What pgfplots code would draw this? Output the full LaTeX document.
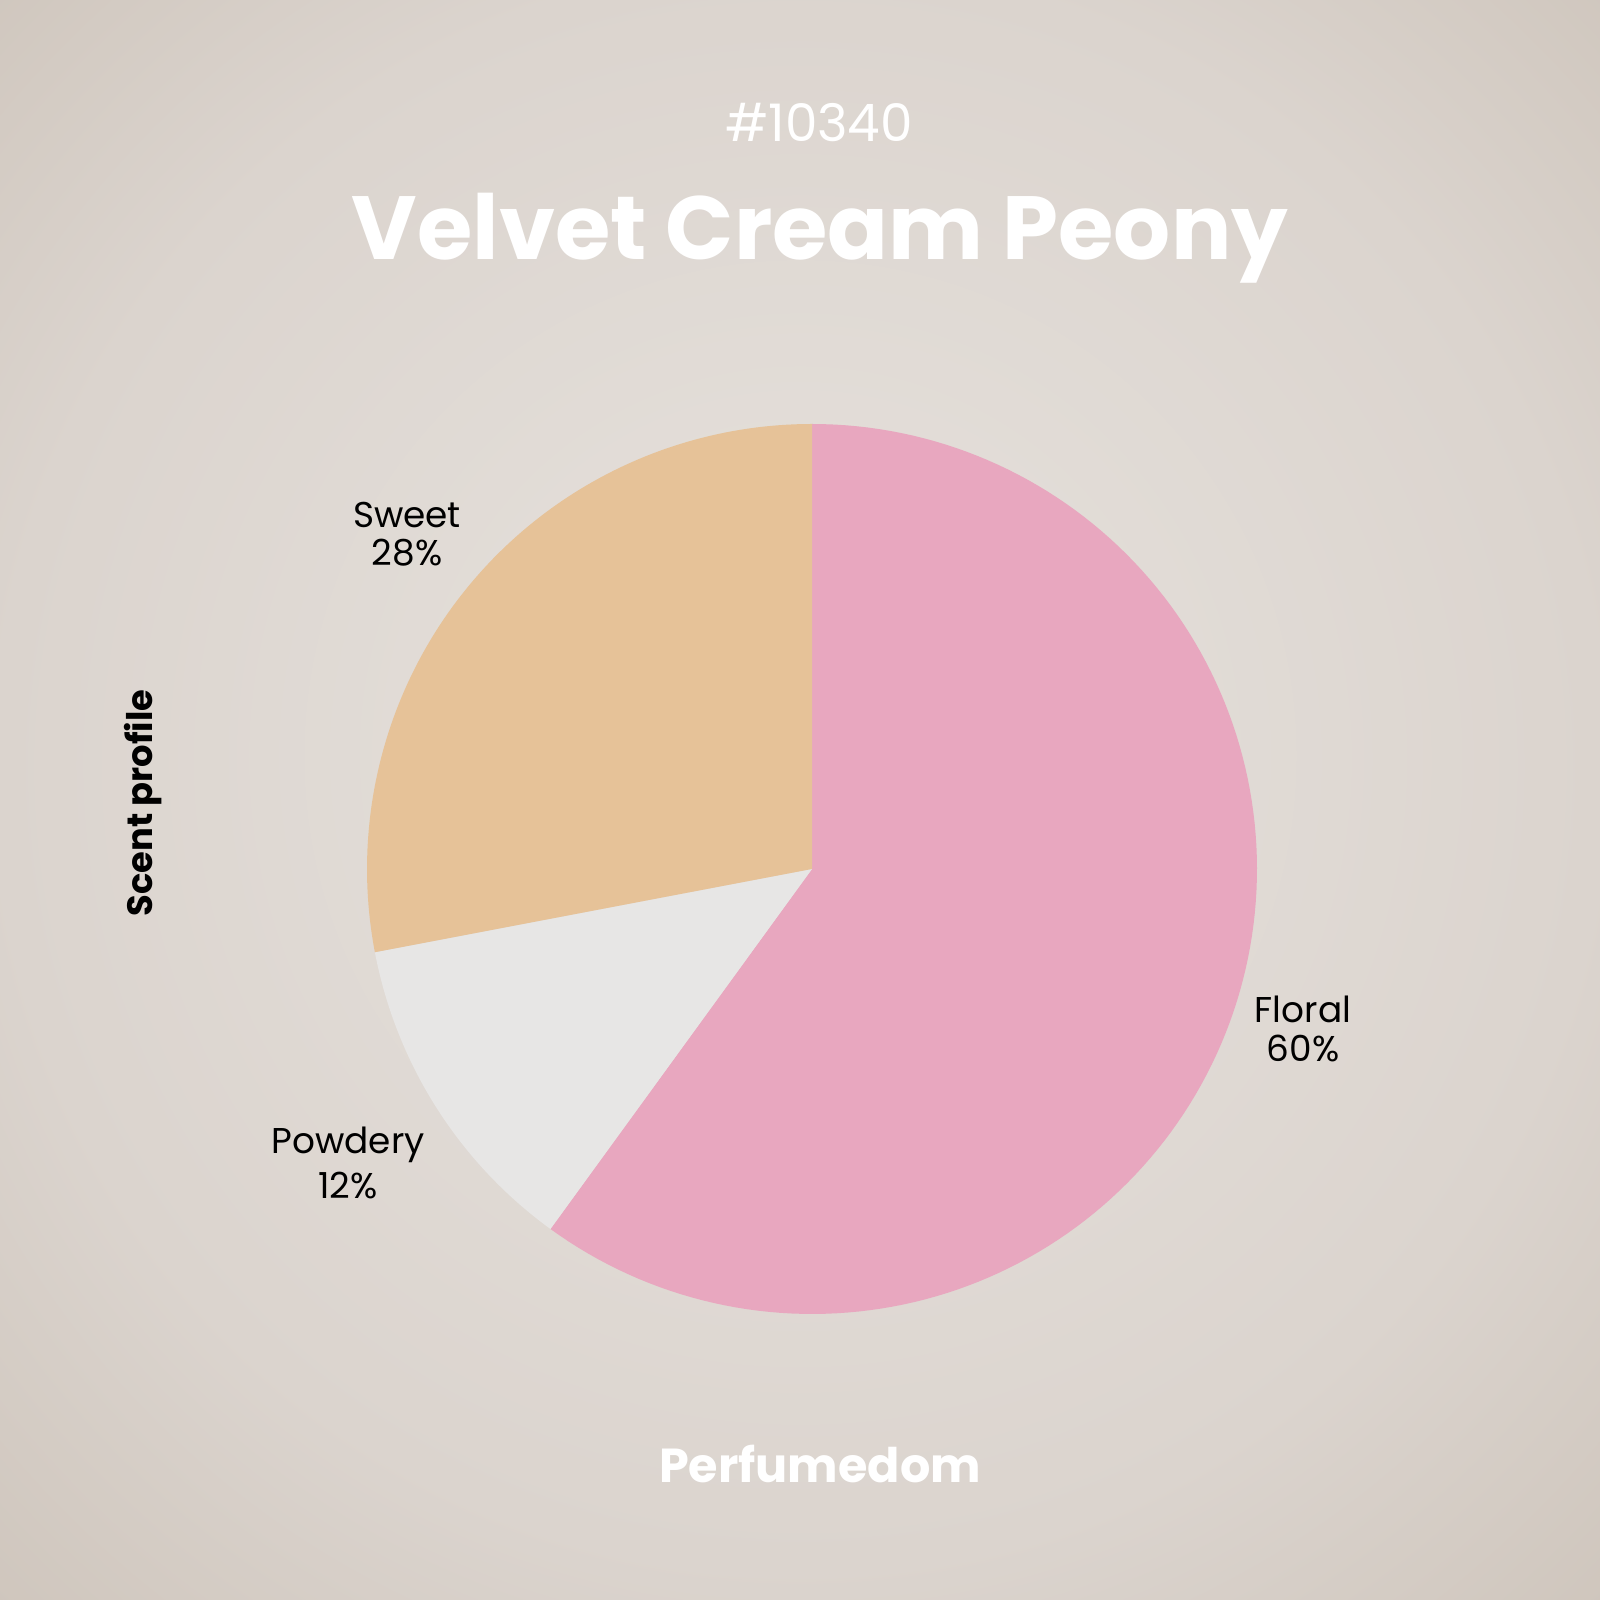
\documentclass[border=0pt]{standalone}
\usepackage{pgfplots}
\usepackage{pgfplotstable}
\pgfplotsset{compat=1.18}
\usepackage{fontspec}
\setmainfont{Poppins}
\definecolor{floral}{HTML}{E8A7BF}
\definecolor{powdery}{HTML}{E7E6E5}
\definecolor{sweet}{HTML}{E6C298}
\definecolor{bgc}{HTML}{E4DFDA}
\definecolor{bgm}{HTML}{DBD4CE}
\definecolor{bge}{HTML}{CFC6BD}
\pgfdeclareradialshading{bgshade}{\pgfpoint{0bp}{2bp}}{color(0bp)=(bgc); color(6bp)=(bgc); color(25bp)=(bgm); color(36bp)=(bge); color(50bp)=(bge)}
\pgfplotstableread{
label value
Floral 60
Powdery 12
Sweet 28
}\scentdata
\begin{document}
\begin{tikzpicture}
\pgfplotstablegetelem{0}{value}\of\scentdata \let\vA\pgfplotsretval
\pgfplotstablegetelem{1}{value}\of\scentdata \let\vB\pgfplotsretval
\pgfplotstablegetelem{2}{value}\of\scentdata \let\vC\pgfplotsretval
\pgfmathsetmacro\aA{90-3.6*\vA}
\pgfmathsetmacro\aB{\aA-3.6*\vB}
\pgfmathsetmacro\aC{\aB-3.6*\vC}
\shade[shading=bgshade] (0,0) rectangle (16,16);
\begin{axis}[at={(8.12cm,7.31cm)}, anchor=center, width=8.9cm, height=8.9cm,
  scale only axis, xmin=-1, xmax=1, ymin=-1, ymax=1, hide axis, clip=false]
\addplot[draw=none, fill=floral, domain=\aA:90, samples=150] ({cos(x)},{sin(x)}) -- (axis cs:0,0) -- cycle;
\addplot[draw=none, fill=powdery, domain=\aB:\aA, samples=60] ({cos(x)},{sin(x)}) -- (axis cs:0,0) -- cycle;
\addplot[draw=none, fill=sweet, domain=\aC:\aB, samples=100] ({cos(x)},{sin(x)}) -- (axis cs:0,0) -- cycle;
\end{axis}
\node[anchor=base, text=white, inner sep=0] at (8.19,14.58) {\resizebox{1.88cm}{!}{\#10340}};
\node[anchor=base, text=white, inner sep=0] at (8.20,13.40) {\resizebox{9.36cm}{!}{\bfseries Velvet Cream Peony}};
\node[anchor=base, text=white, inner sep=0] at (8.20,1.17) {\resizebox{3.22cm}{!}{\bfseries Perfumedom}};
\node[anchor=base, rotate=90, text=black, inner sep=0] at (1.52,7.97) {\resizebox{2.27cm}{!}{\bfseries Scent profile}};
\begin{scope}[every node/.style={anchor=base, inner sep=0, text=black, font=\fontsize{10.2}{12}\selectfont}]
\node at (4.07,10.72) {Sweet};
\node at (4.07,10.34) {28\%};
\node at (3.48,4.46) {Powdery};
\node at (3.48,4.01) {12\%};
\node at (13.03,5.77) {Floral};
\node at (13.03,5.38) {60\%};
\end{scope}
\end{tikzpicture}
\end{document}
